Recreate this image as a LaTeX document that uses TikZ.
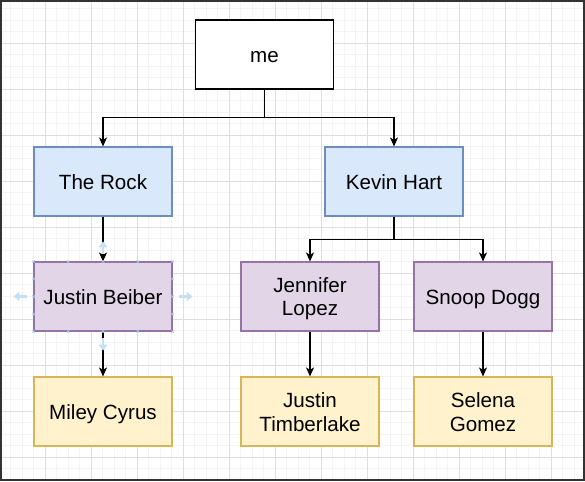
\documentclass[tikz,border=0pt]{standalone}
\usepackage{fontspec}
\setmainfont{Liberation Sans}
\usetikzlibrary{arrows.meta,calc}
\definecolor{bluefill}{HTML}{DAE8FC}
\definecolor{bluestroke}{HTML}{6C8EBF}
\definecolor{purplefill}{HTML}{E1D5E7}
\definecolor{purplestroke}{HTML}{9673A6}
\definecolor{yellowfill}{HTML}{FFF2CC}
\definecolor{yellowstroke}{HTML}{D6B656}
\definecolor{minorgrid}{HTML}{F4F4F4}
\definecolor{majorgrid}{HTML}{DEDEDE}
\definecolor{framecol}{HTML}{333333}
\definecolor{hintcol}{HTML}{C4E0F6}
\definecolor{handlecol}{HTML}{A6D2F4}
\newcommand\vstr{\rule[-3.5pt]{0pt}{23pt}}
\begin{document}
\begin{tikzpicture}[x=1pt,y=-1pt,
  box/.style={draw, line width=1.15pt, minimum width=138pt, minimum height=69pt,
    inner sep=0pt, align=center, font=\fontsize{20.6}{23.5}\selectfont},
  plainbox/.style={box, fill=white, draw=black},
  bluebox/.style={box, fill=bluefill, draw=bluestroke},
  purplebox/.style={box, fill=purplefill, draw=purplestroke},
  yellowbox/.style={box, fill=yellowfill, draw=yellowstroke},
  edge/.style={draw=black, line width=1.3pt, -{Stealth[length=9pt,width=8pt,inset=2.5pt]}},
  hint/.style={draw=hintcol, line width=2.4pt, -{Triangle[length=6pt,width=9pt]}},
  handle/.style={draw=handlecol, line width=0.6pt}]
\useasboundingbox (0,0) rectangle (585,481);
\fill[white] (0,0) rectangle (585,481);
% grid
\foreach \i in {0,...,50} {
  \draw[minorgrid, line width=0.7pt] ({10.8+11.5*\i},0) -- ({10.8+11.5*\i},481);
}
\foreach \i in {0,...,41} {
  \draw[minorgrid, line width=0.7pt] (0,{8.8+11.5*\i}) -- (585,{8.8+11.5*\i});
}
\foreach \i in {0,...,12} {
  \draw[majorgrid, line width=0.8pt] ({45.3+46*\i},0) -- ({45.3+46*\i},481);
}
\foreach \i in {0,...,10} {
  \draw[majorgrid, line width=0.8pt] (0,{43.3+46*\i}) -- (585,{43.3+46*\i});
}
\draw[framecol, line width=1.6pt] (0.8,0.8) rectangle (584.2,480.2);

% nodes
\node[plainbox]  (me)    at (264.5,54.5)  {me\vstr};
\node[bluebox]   (rock)  at (103,181.5)   {The Rock\vstr};
\node[bluebox]   (kevin) at (394,181.5)   {Kevin Hart\vstr};
\node[purplebox] (jb)    at (103,296.5)   {Justin Beiber\vstr};
\node[purplebox] (jl)    at (310,296.5)   {Jennifer\vstr\\Lopez\vstr};
\node[purplebox] (sd)    at (483,296.5)   {Snoop Dogg\vstr};
\node[yellowbox] (mc)    at (103,411.5)   {Miley Cyrus\vstr};
\node[yellowbox] (jt)    at (310,411.5)   {Justin\vstr\\Timberlake\vstr};
\node[yellowbox] (sg)    at (483,411.5)   {Selena\vstr\\Gomez\vstr};

% connectors
\draw[edge] (me.south) -- ++(0,28) -| (rock.north);
\draw[edge] (me.south) -- ++(0,28) -| (kevin.north);
\draw[edge] (kevin.south) -- ++(0,23) -| (jl.north);
\draw[edge] (kevin.south) -- ++(0,23) -| (sd.north);
\draw[edge] (rock.south) -- (jb.north);
\draw[edge] (jb.south) -- (mc.north);
\draw[edge] (jl.south) -- (jt.north);
\draw[edge] (sd.south) -- (sg.north);

% selection hints around Justin Beiber
\draw[hint] ([xshift=-6pt]jb.west) -- ++(-14,0);
\draw[hint] ([xshift=6pt]jb.east) -- ++(14,0);
\draw[hint] ([yshift=7pt]jb.north) -- ++(0,-13);
\draw[hint] ([yshift=-6pt]jb.south) -- ++(0,13);
\foreach \f in {0,0.25,0.5,0.75,1} {
  \draw[handle] ($(jb.north west)!\f!(jb.north east)$) ++(-1.2,-1.2) -- ++(2.4,2.4) ++(0,-2.4) -- ++(-2.4,2.4);
  \draw[handle] ($(jb.south west)!\f!(jb.south east)$) ++(-1.2,-1.2) -- ++(2.4,2.4) ++(0,-2.4) -- ++(-2.4,2.4);
}
\foreach \f in {0.25,0.5,0.75} {
  \draw[handle] ($(jb.north west)!\f!(jb.south west)$) ++(-1.2,-1.2) -- ++(2.4,2.4) ++(0,-2.4) -- ++(-2.4,2.4);
  \draw[handle] ($(jb.north east)!\f!(jb.south east)$) ++(-1.2,-1.2) -- ++(2.4,2.4) ++(0,-2.4) -- ++(-2.4,2.4);
}
\end{tikzpicture}
\end{document}
